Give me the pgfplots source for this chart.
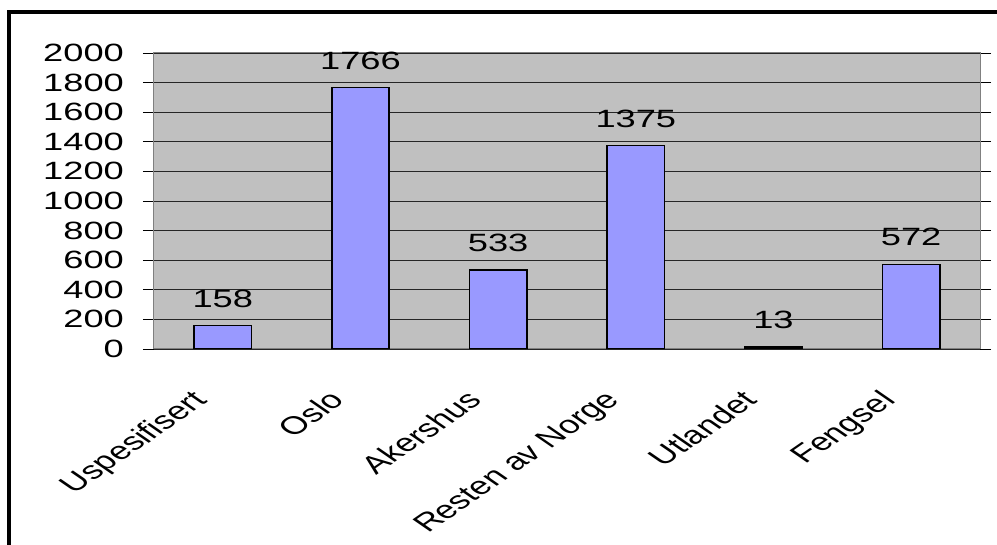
\documentclass[border=0pt]{standalone}
\usepackage{fontspec}
\setmainfont{Liberation Sans}
\usepackage{pgfplots}
\pgfplotsset{compat=1.18}
\definecolor{plotbg}{RGB}{192,192,192}
\definecolor{barfill}{RGB}{153,153,255}
\definecolor{axgray}{RGB}{128,128,128}
\begin{document}
\begin{tikzpicture}
\useasboundingbox (0,0) rectangle (997pt,545pt);
\clip (0,0) rectangle (997pt,545pt);
\draw[line width=3.2pt] (9pt,-20pt) |- (1020pt,533pt);
\begin{axis}[
    at={(154pt,196pt)}, anchor=south west,
    scale only axis,
    width=826pt, height=296pt,
    xmin=-0.5, xmax=5.5,
    ymin=0, ymax=2000,
    ytick={0,200,...,2000},
    xtick={0,...,5},
    xticklabels={Uspesifisert,Oslo,Akershus,Resten av Norge,Utlandet,Fengsel},
    extra x ticks={-0.5,0.5,...,5.5},
    extra x tick labels={},
    extra x tick style={major tick length=9pt, tick style={black, line width=0.8pt}},
    x tick style={draw=none},
    y tick style={black, line width=0.8pt},
    major tick length=11pt,
    tick align=outside,
    axis background/.style={fill=plotbg},
    axis line style={axgray, line width=1pt},
    ymajorgrids,
    grid style={black!85, line width=0.9pt},
    ticklabel style={font=\fontsize{25}{29}\selectfont},
    /pgf/number format/assume math mode=true,
    /pgf/number format/1000 sep={},
    yticklabel style={xshift=-14pt, xscale=1.45, anchor=east},
    xticklabel style={xshift=-33pt, yshift=-24pt, xscale=1.45, rotate=45, anchor=north east},
]
\addplot[ybar, bar width=0.415, fill=barfill, draw=black, line width=1.6pt,
    nodes near coords,
    every node near coord/.append style={black, font=\fontsize{25}{29}\selectfont, yshift=14pt, xscale=1.45, anchor=south},
] coordinates {(0,158) (1,1766) (2,533) (3,1375) (4,13) (5,572)};
\end{axis}
\end{tikzpicture}
\end{document}
